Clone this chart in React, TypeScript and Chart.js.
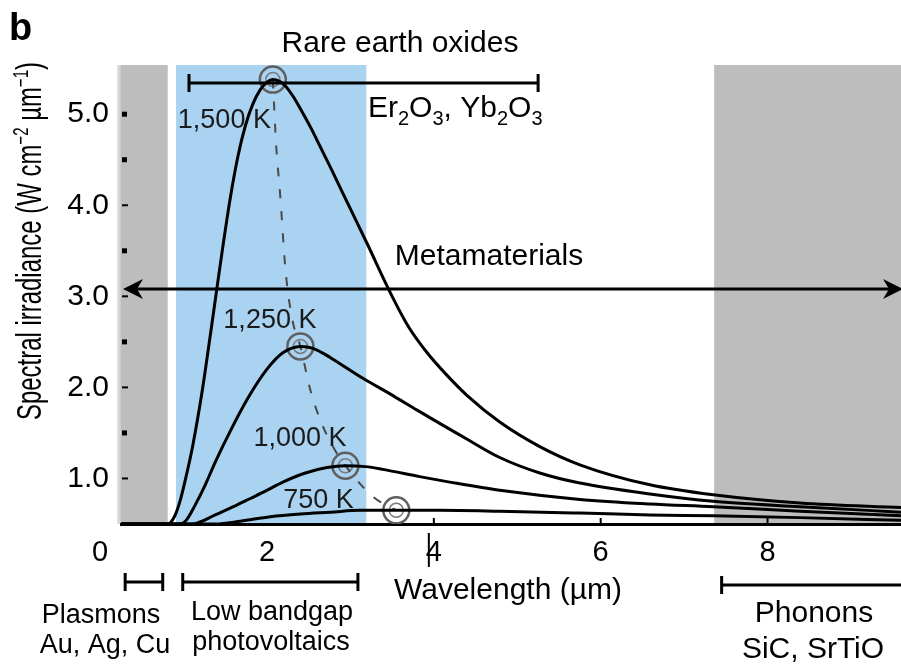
import React, { useEffect, useRef } from 'react';
import { Chart, registerables } from 'chart.js';

Chart.register(...registerables);

// ---------------- data ----------------
const curveNames = ['1,500 K', '1,250 K', '1,000 K', '750 K'];

const wl1500 = [0.25, 0.81, 0.89, 0.96, 1.03, 1.11, 1.22, 1.30, 1.38, 1.47, 1.56, 1.65, 1.74, 1.83, 1.92, 2.00, 2.07, 2.15, 2.22, 2.31, 2.40, 2.52, 2.64, 2.78, 2.90, 3.00, 3.20, 3.50, 3.70, 3.92, 4.15, 4.40, 4.79, 5.27, 5.75, 6.59, 7.35, 8.39, 9.60];
const irr1500 = [0.50, 0.50, 0.58, 0.76, 1.02, 1.36, 1.94, 2.44, 2.96, 3.54, 4.08, 4.53, 4.87, 5.11, 5.27, 5.35, 5.38, 5.36, 5.31, 5.20, 5.06, 4.86, 4.64, 4.38, 4.15, 3.96, 3.58, 3.00, 2.66, 2.38, 2.14, 1.91, 1.62, 1.35, 1.15, 0.93, 0.82, 0.73, 0.68];

const wl1250 = [0.25, 0.96, 1.03, 1.14, 1.26, 1.38, 1.56, 1.77, 2.00, 2.19, 2.40, 2.50, 2.60, 2.70, 2.79, 3.15, 3.51, 3.80, 4.40, 4.79, 5.27, 5.75, 6.59, 7.35, 8.39, 9.60];
const irr1250 = [0.50, 0.50, 0.54, 0.71, 0.93, 1.18, 1.52, 1.88, 2.20, 2.38, 2.45, 2.44, 2.41, 2.36, 2.31, 2.10, 1.91, 1.75, 1.43, 1.23, 1.06, 0.95, 0.83, 0.75, 0.69, 0.63];

const wl1000 = [0.25, 1.10, 1.38, 1.62, 1.80, 1.98, 2.19, 2.46, 2.72, 2.94, 3.18, 3.39, 3.83, 4.19, 4.79, 5.75, 6.59, 7.35, 8.39, 9.60];
const irr1000 = [0.50, 0.50, 0.60, 0.70, 0.78, 0.86, 0.96, 1.06, 1.12, 1.14, 1.13, 1.10, 1.02, 0.96, 0.87, 0.77, 0.72, 0.69, 0.64, 0.59];

const wl750 = [0.25, 1.38, 1.68, 2.04, 2.40, 2.76, 3.12, 3.55, 4.07, 4.79, 5.75, 6.59, 7.35, 8.39, 9.60];
const irr750 = [0.50, 0.50, 0.53, 0.58, 0.61, 0.63, 0.65, 0.65, 0.65, 0.64, 0.62, 0.60, 0.59, 0.57, 0.54];

const peakWl = [2.07, 2.40, 2.94, 3.55];
const peakIrr = [5.38, 2.45, 1.14, 0.65];

const locusWl = [2.07, 2.11, 2.16, 2.22, 2.30, 2.40, 2.52, 2.64, 2.79, 2.94, 3.27, 3.55];
const locusIrr = [5.38, 4.66, 4.09, 3.31, 2.76, 2.45, 1.97, 1.64, 1.35, 1.14, 0.80, 0.65];

const xTicks = [0, 2, 4, 6, 8];
const yTicks = [1, 1.5, 2, 2.5, 3, 3.5, 4, 4.5, 5];

// shaded spectral bands (µm)
const bandStart = [0.21, 0.91, 7.36];
const bandEnd = [0.81, 3.19, 9.6];

// brackets below the axis (µm)
const bracketStart = [0.30, 0.99, 7.45];
const bracketEnd = [0.75, 3.09, 9.9];
const bracketLine1 = ['Plasmons', 'Low bandgap', 'Phonons'];
const bracketLine2 = ['Au, Ag, Cu', 'photovoltaics', 'SiC, SrTiO'];

// rare earth bracket (µm) and its level
const rareStart = 1.065;
const rareEnd = 5.25;
const rareLevel = 5.343;
const metaLevel = 3.08;

// ---------------- styles / layout ----------------
const FONT = '"Liberation Sans", Arial, Helvetica, sans-serif';
const BAND_COLORS = ['#bdbdbd', '#a9d3f0', '#bdbdbd'];
const LABEL_OFFSETS = [[-95, 48], [-77, -18], [-92, -20], [-113, -2]];
const BRACKET_Y = [582, 582, 585];
const TEXT1 = [[101, 623, 27], [272, 620, 27], [814, 622, 30]];
const TEXT2 = [[105, 653, 27], [271, 650, 27], [813, 658, 30]];

type Run = { t: string; size: number; dy: number };

function drawRuns(ctx: CanvasRenderingContext2D, parts: Run[], x: number, y: number, align: 'left' | 'center') {
  let total = 0;
  const widths = parts.map((p) => {
    ctx.font = `${p.size}px ${FONT}`;
    const w = ctx.measureText(p.t).width;
    total += w;
    return w;
  });
  let cx = align === 'center' ? x - total / 2 : x;
  ctx.textAlign = 'left';
  ctx.textBaseline = 'alphabetic';
  parts.forEach((p, i) => {
    ctx.font = `${p.size}px ${FONT}`;
    ctx.fillText(p.t, cx, y + p.dy);
    cx += widths[i];
  });
}

function dart(ctx: CanvasRenderingContext2D, tipX: number, y: number, dir: number) {
  ctx.beginPath();
  ctx.moveTo(tipX, y);
  ctx.lineTo(tipX - dir * 20, y - 10);
  ctx.lineTo(tipX - dir * 14, y);
  ctx.lineTo(tipX - dir * 20, y + 10);
  ctx.closePath();
  ctx.fill();
}

const bgPlugin = {
  id: 'bgBands',
  beforeDraw(chart: any) {
    const { ctx, chartArea, scales } = chart;
    const { top, bottom, right } = chartArea;
    const xs = scales.x;
    ctx.save();
    ctx.fillStyle = '#ffffff';
    ctx.fillRect(0, 0, chart.width, chart.height);
    bandStart.forEach((s, i) => {
      const x1 = xs.getPixelForValue(s);
      const x2 = Math.min(xs.getPixelForValue(bandEnd[i]), right);
      ctx.fillStyle = BAND_COLORS[i];
      ctx.fillRect(x1, top, x2 - x1, bottom - top);
    });
    const x0 = xs.getPixelForValue(bandStart[0]);
    ctx.fillStyle = '#d6d6d6';
    ctx.fillRect(x0, top, 3, bottom - top);
    ctx.restore();
  },
};

const annPlugin = {
  id: 'annotations',
  beforeDatasetsDraw(chart: any) {
    const { ctx, chartArea, scales } = chart;
    const xs = scales.x;
    const ys = scales.y;
    ctx.save();
    ctx.fillStyle = '#000';
    yTicks.forEach((v) => {
      const py = ys.getPixelForValue(v);
      if (Number.isInteger(v) && v !== 5) ctx.fillRect(chartArea.left + 1, py - 1, 6, 2);
      else ctx.fillRect(chartArea.left + 1, py - 2.5, 5, 5);
    });
    [4, 6, 8].forEach((v) => {
      const px = xs.getPixelForValue(v);
      ctx.fillRect(px - 1, chartArea.bottom - 6, 2, 6);
    });
    ctx.fillStyle = '#1a1a1a';
    peakWl.forEach((w, i) => {
      const px = xs.getPixelForValue(w);
      const py = ys.getPixelForValue(peakIrr[i]);
      drawRuns(ctx, [{ t: curveNames[i], size: 27, dy: 0 }], px + LABEL_OFFSETS[i][0], py + LABEL_OFFSETS[i][1], 'left');
    });
    ctx.restore();
  },
  afterDatasetsDraw(chart: any) {
    const { ctx, chartArea, scales } = chart;
    const xs = scales.x;
    const ys = scales.y;
    ctx.save();
    ctx.fillStyle = '#000';
    ctx.strokeStyle = '#000';
    ctx.lineWidth = 3;

    const my = ys.getPixelForValue(metaLevel);
    ctx.beginPath();
    ctx.moveTo(chartArea.left + 8, my);
    ctx.lineTo(chartArea.right - 6, my);
    ctx.stroke();
    dart(ctx, chartArea.left + 2, my, -1);
    dart(ctx, chartArea.right + 2, my, 1);
    drawRuns(ctx, [{ t: 'Metamaterials', size: 30, dy: 0 }], 489, 265, 'center');

    const ry = ys.getPixelForValue(rareLevel);
    const rx1 = xs.getPixelForValue(rareStart);
    const rx2 = xs.getPixelForValue(rareEnd);
    ctx.beginPath();
    ctx.moveTo(rx1, ry);
    ctx.lineTo(rx2, ry);
    ctx.moveTo(rx1, ry - 9);
    ctx.lineTo(rx1, ry + 9);
    ctx.moveTo(rx2, ry - 9);
    ctx.lineTo(rx2, ry + 9);
    ctx.stroke();
    drawRuns(ctx, [{ t: 'Rare earth oxides', size: 30, dy: 0 }], 400, 52, 'center');
    drawRuns(ctx, [
      { t: 'Er', size: 30, dy: 0 }, { t: '2', size: 20, dy: 8 },
      { t: 'O', size: 30, dy: 0 }, { t: '3', size: 20, dy: 8 },
      { t: ', Yb', size: 30, dy: 0 }, { t: '2', size: 20, dy: 8 },
      { t: 'O', size: 30, dy: 0 }, { t: '3', size: 20, dy: 8 },
    ], 368, 117, 'left');

    bracketStart.forEach((s, i) => {
      const x1 = xs.getPixelForValue(s);
      const x2 = xs.getPixelForValue(bracketEnd[i]);
      const by = BRACKET_Y[i];
      ctx.beginPath();
      ctx.moveTo(x1, by);
      ctx.lineTo(x2, by);
      ctx.moveTo(x1, by - 9);
      ctx.lineTo(x1, by + 9);
      ctx.moveTo(x2, by - 9);
      ctx.lineTo(x2, by + 9);
      ctx.stroke();
      drawRuns(ctx, [{ t: bracketLine1[i], size: TEXT1[i][2], dy: 0 }], TEXT1[i][0], TEXT1[i][1], 'center');
      drawRuns(ctx, [{ t: bracketLine2[i], size: TEXT2[i][2], dy: 0 }], TEXT2[i][0], TEXT2[i][1], 'center');
    });

    const p4 = xs.getPixelForValue(4);
    ctx.fillRect(p4 - 6, 533, 2, 34);

    drawRuns(ctx, [{ t: 'Wavelength (µm)', size: 30, dy: 0 }], 508, 599, 'center');

    ctx.font = `bold 38px ${FONT}`;
    ctx.textAlign = 'left';
    ctx.fillText('b', 9, 40);

    const parts: Run[] = [
      { t: 'Spectral irradiance (W cm', size: 35, dy: 0 },
      { t: '−2', size: 22, dy: -13 },
      { t: ' µm', size: 35, dy: 0 },
      { t: '−1', size: 22, dy: -13 },
      { t: ')', size: 35, dy: 0 },
    ];
    let total = 0;
    parts.forEach((p) => {
      ctx.font = `${p.size}px ${FONT}`;
      total += ctx.measureText(p.t).width;
    });
    const sx = 358 / total;
    ctx.translate(41, 241);
    ctx.rotate(-Math.PI / 2);
    ctx.scale(sx, 1);
    drawRuns(ctx, parts, 0, 0, 'center');
    ctx.restore();
  },
};

export default function App() {
  const ref = useRef<HTMLCanvasElement>(null);
  useEffect(() => {
    const canvas = ref.current;
    if (!canvas) return;
    const series = [
      { wl: wl1500, irr: irr1500 },
      { wl: wl1250, irr: irr1250 },
      { wl: wl1000, irr: irr1000 },
      { wl: wl750, irr: irr750 },
    ];
    const curveSets = series.map((s, k) => ({
      label: curveNames[k],
      data: s.wl.map((x, i) => ({ x, y: s.irr[i] })),
      borderColor: '#000',
      borderWidth: 3,
      pointRadius: 0,
      fill: false,
      cubicInterpolationMode: 'monotone' as const,
    }));
    const chart = new Chart(canvas, {
      type: 'line',
      data: {
        datasets: [
          ...curveSets,
          {
            label: 'Wien locus',
            data: locusWl.map((x, i) => ({ x, y: locusIrr[i] })),
            borderColor: '#4a4a4a',
            borderWidth: 2,
            borderDash: [9, 13],
            pointRadius: 0,
            fill: false,
            cubicInterpolationMode: 'monotone' as const,
          },
          {
            label: 'peaks',
            data: peakWl.map((x, i) => ({ x, y: peakIrr[i] })),
            showLine: false,
            pointStyle: 'circle',
            pointRadius: 13,
            pointBorderColor: '#5f5f5f',
            pointBackgroundColor: 'rgba(0,0,0,0)',
            pointBorderWidth: 2.5,
          },
          {
            label: 'peaks inner',
            data: peakWl.map((x, i) => ({ x, y: peakIrr[i] })),
            showLine: false,
            pointStyle: 'circle',
            pointRadius: 7,
            pointBorderColor: '#7a7a7a',
            pointBackgroundColor: 'rgba(0,0,0,0)',
            pointBorderWidth: 1.5,
          },
        ],
      } as any,
      options: {
        responsive: false,
        maintainAspectRatio: false,
        animation: false,
        layout: { autoPadding: false, padding: { left: 0, right: 0, top: 65, bottom: 0 } },
        plugins: { legend: { display: false }, tooltip: { enabled: false } },
        scales: {
          x: {
            type: 'linear',
            min: 0.25,
            max: 9.6,
            afterFit: (s: any) => { s.height = 140; s.paddingLeft = 0; s.paddingRight = 0; },
            afterBuildTicks: (s: any) => { s.ticks = xTicks.map((v) => ({ value: v })); },
            grid: { display: false, drawTicks: false },
            border: { display: true, color: '#000', width: 3 },
            ticks: {
              font: { family: FONT, size: 29 },
              color: '#000',
              padding: 12,
              autoSkip: false,
              maxRotation: 0,
              callback: (v: any) => String(v),
            },
          },
          y: {
            type: 'linear',
            min: 0.5,
            max: 5.54,
            afterFit: (s: any) => { s.width = 121; s.paddingTop = 0; s.paddingBottom = 0; },
            afterBuildTicks: (s: any) => { s.ticks = yTicks.map((v) => ({ value: v })); },
            grid: { display: false, drawTicks: false },
            border: { display: false },
            ticks: {
              font: { family: FONT, size: 30 },
              color: '#000',
              padding: 12,
              autoSkip: false,
              callback: (v: any) => (Number.isInteger(v) ? Number(v).toFixed(1) : ''),
            },
          },
        },
      } as any,
      plugins: [bgPlugin, annPlugin],
    });
    return () => chart.destroy();
  }, []);
  return (
    <div style={{ position: 'absolute', left: 0, top: 0, width: 901, height: 664, background: '#fff' }}>
      <canvas ref={ref} width={901} height={664} style={{ width: 901, height: 664, display: 'block' }} />
    </div>
  );
}
